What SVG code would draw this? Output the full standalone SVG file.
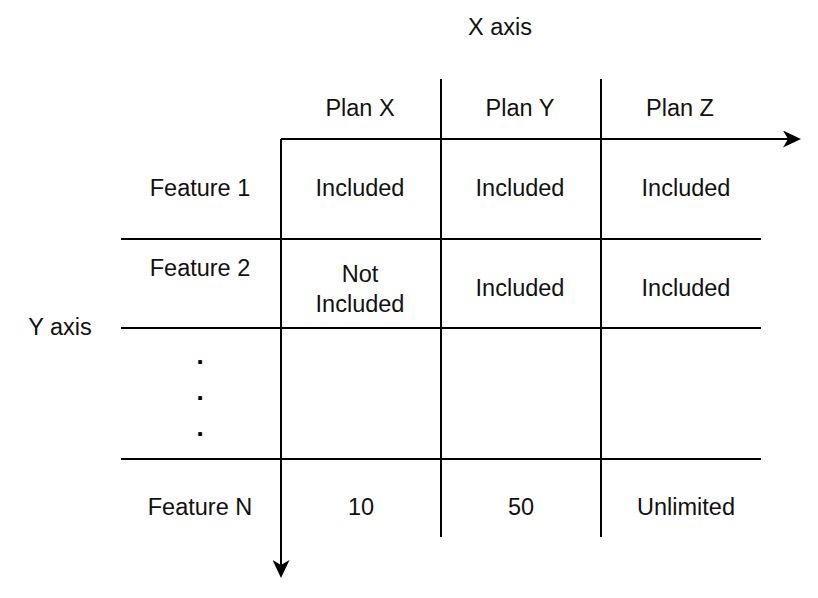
<svg xmlns="http://www.w3.org/2000/svg" width="818" height="598" viewBox="0 0 818 598">
  <defs>
    <marker id="arrow" viewBox="0 0 18 17" refX="7" refY="8.5" markerWidth="18" markerHeight="17" markerUnits="userSpaceOnUse" orient="auto">
      <path d="M0 0 L18 8.5 L0 17 L5 8.5 Z" fill="#000"/>
    </marker>
  </defs>
  <style>
    .t { font-family: "Liberation Sans", Arial, Helvetica, sans-serif; font-size: 23.5px; fill: #111; text-anchor: middle; }
    .d { font-family: "Liberation Sans", Arial, Helvetica, sans-serif; font-size: 26px; font-weight: bold; fill: #000; text-anchor: middle; }
    .ln { stroke: #000; stroke-width: 2; fill: none; }
  </style>
  <rect width="818" height="598" fill="#fff"/>
  <g id="connectors">
    <path class="ln" d="M441 79 V537"/>
    <path class="ln" d="M601 79 V537"/>
    <path class="ln" d="M121 239 H761"/>
    <path class="ln" d="M121 328 H761"/>
    <path class="ln" d="M121 459 H761"/>
    <path class="ln" d="M281 139 H790" marker-end="url(#arrow)"/>
    <path class="ln" d="M281 139 V567" marker-end="url(#arrow)"/>
  </g>
  <g id="x-axis-label"><text class="t" x="500" y="35">X axis</text></g>
  <g id="y-axis-label"><text class="t" x="60" y="335">Y axis</text></g>
  <g id="plan-x"><text class="t" x="360" y="116">Plan X</text></g>
  <g id="plan-y"><text class="t" x="520" y="116">Plan Y</text></g>
  <g id="plan-z"><text class="t" x="680" y="116">Plan Z</text></g>
  <g id="feature-1"><text class="t" x="200" y="196">Feature 1</text></g>
  <g id="f1-x"><text class="t" x="360" y="196">Included</text></g>
  <g id="f1-y"><text class="t" x="520" y="196">Included</text></g>
  <g id="f1-z"><text class="t" x="686" y="196">Included</text></g>
  <g id="feature-2"><text class="t" x="200" y="276">Feature 2</text></g>
  <g id="f2-x"><text class="t" x="360" y="282">Not</text><text class="t" x="360" y="312">Included</text></g>
  <g id="f2-y"><text class="t" x="520" y="296">Included</text></g>
  <g id="f2-z"><text class="t" x="686" y="296">Included</text></g>
  <g id="ellipsis"><text class="d" x="200" y="364">.</text><text class="d" x="200" y="400">.</text><text class="d" x="200" y="436">.</text></g>
  <g id="feature-n"><text class="t" x="200" y="515">Feature N</text></g>
  <g id="fn-x"><text class="t" x="361" y="515">10</text></g>
  <g id="fn-y"><text class="t" x="521" y="515">50</text></g>
  <g id="fn-z"><text class="t" x="686" y="515">Unlimited</text></g>
</svg>
